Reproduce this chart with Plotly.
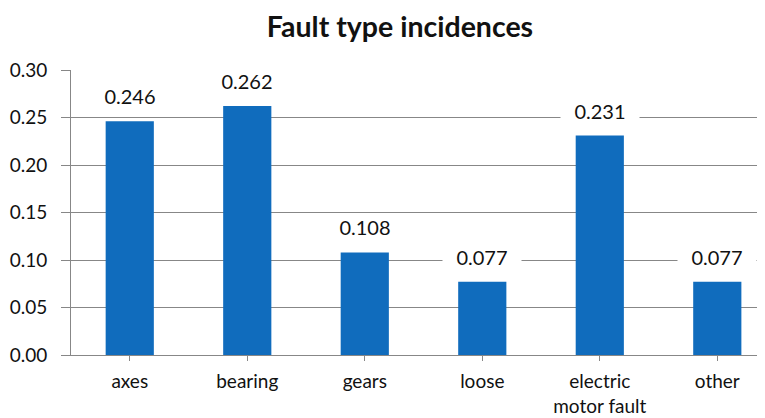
import plotly.graph_objects as go

categories = ["axes", "bearing", "gears", "loose", "electric<br>motor fault", "other"]
values = [0.246, 0.262, 0.108, 0.077, 0.231, 0.077]
value_labels = ["0.246", "0.262", "0.108", "0.077", "0.231", "0.077"]
y_ticks = [0.0, 0.05, 0.10, 0.15, 0.20, 0.25, 0.30]
y_tick_labels = ["0.00", "0.05", "0.10", "0.15", "0.20", "0.25", "0.30"]

FONT = "Lato, Carlito, Calibri, sans-serif"
GRID = "#878787"
TXT = "#111111"
OFF = 8  # default page body margin

W, H = 765, 418

fig = go.Figure()
fig.add_trace(go.Bar(
    x=list(range(len(categories))),
    y=values,
    marker=dict(color="#106CBD", line=dict(width=0)),
    width=0.41,
    hoverinfo="skip",
))

for i, (v, t) in enumerate(zip(values, value_labels)):
    fig.add_annotation(
        x=i, y=v, xref="x", yref="y", text=t, showarrow=False,
        yanchor="bottom", yshift=11, bgcolor="white", width=76, height=24,
        font=dict(family=FONT, size=20, color=TXT),
    )

fig.update_layout(
    width=W, height=H,
    margin=dict(l=71 - OFF, r=OFF, t=70 - OFF, b=63 + OFF),
    paper_bgcolor="white", plot_bgcolor="white",
    showlegend=False,
    title=dict(text="<b>Fault type incidences</b>", x=(400 - OFF) / W, xanchor="center",
               y=1 - (27 - OFF) / H, yanchor="middle",
               font=dict(family=FONT, size=28.5, color=TXT)),
    font=dict(family=FONT, color=TXT),
)
fig.update_xaxes(
    range=[-0.5, 5.406],
    tickmode="array", tickvals=list(range(len(categories))), ticktext=categories,
    tickson="boundaries", ticks="outside", ticklen=5, tickcolor=GRID,
    showline=True, linecolor=GRID, linewidth=1,
    showgrid=False, zeroline=False,
    tickfont=dict(family=FONT, size=19, color=TXT),
    ticklabelstandoff=4,
    automargin=False,
    fixedrange=True,
)
fig.update_yaxes(
    range=[0, 0.30],
    tickmode="array", tickvals=y_ticks, ticktext=y_tick_labels,
    ticks="outside", ticklen=9, tickcolor=GRID,
    showline=True, linecolor=GRID, linewidth=1,
    showgrid=True, gridcolor=GRID, gridwidth=1,
    zeroline=False,
    tickfont=dict(family=FONT, size=19, color=TXT),
    ticklabelstandoff=10,
    automargin=False,
    fixedrange=True,
)

fig.write_html("out.html")
